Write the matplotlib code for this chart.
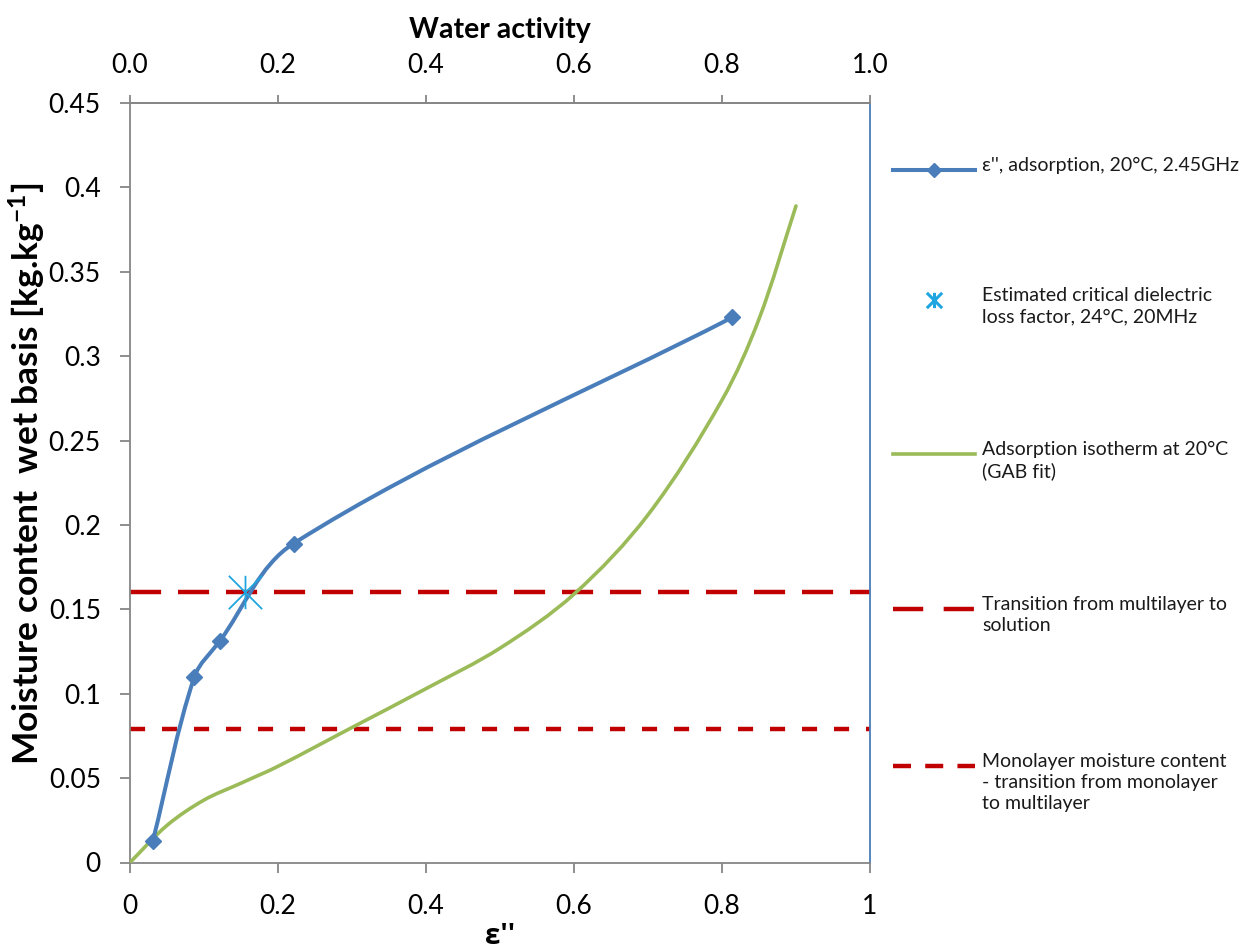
import numpy as np
import matplotlib
matplotlib.use('Agg')
import matplotlib.pyplot as plt
from matplotlib.path import Path
from matplotlib.patches import PathPatch
from matplotlib.lines import Line2D
from matplotlib.ticker import FormatStrFormatter, FuncFormatter

plt.rcParams['font.family'] = ['Lato', 'DejaVu Sans']
plt.rcParams['mathtext.fontset'] = 'custom'
plt.rcParams['mathtext.rm'] = 'Lato'
plt.rcParams['mathtext.bf'] = 'Lato:bold'

# dielectric loss factor vs moisture content (adsorption, 20C, 2.45GHz)
eps_loss = [0.031, 0.087, 0.121, 0.221, 0.814]
moisture_eps = [0.013, 0.110, 0.131, 0.189, 0.323]

# estimated critical loss factor (24C, 20MHz)
crit_eps = [0.155]
crit_moisture = [0.16]

# GAB isotherm at 20C (x = water activity)
aw = [0.0, 0.05, 0.1, 0.15, 0.2, 0.3, 0.4, 0.5, 0.6, 0.7, 0.8, 0.85, 0.9]
moisture_gab = [0.0, 0.022, 0.037, 0.047, 0.057, 0.080, 0.103, 0.127, 0.159, 0.206,
                0.274, 0.322, 0.389]

multilayer_solution = 0.16
monolayer = 0.079

BLUE = '#4A7EBB'
GREEN = '#9BBB59'
RED = '#C00000'
STAR = '#1FA5E0'
GREY = '#868686'

W, H = 1256, 952
# pixels per unit on each axis, used so the smoothing works in screen-like space
XPX, YPX = 740 / 1.0, 759.5 / 0.45


def smooth_path(xs, ys):
    # Excel-like smoothed line: cubic Beziers, tangent from neighbours, length from chord
    pts = np.column_stack([np.asarray(xs) * XPX, np.asarray(ys) * YPX]).astype(float)
    n = len(pts)
    tang = []
    for i in range(n):
        a = pts[max(i - 1, 0)]
        b = pts[min(i + 1, n - 1)]
        d = b - a
        tang.append(d / np.hypot(*d))
    verts = [pts[0]]
    codes = [Path.MOVETO]
    for i in range(n - 1):
        L = np.hypot(*(pts[i + 1] - pts[i]))
        verts += [pts[i] + tang[i] * L / 3, pts[i + 1] - tang[i + 1] * L / 3, pts[i + 1]]
        codes += [Path.CURVE4] * 3
    verts = np.array(verts) / [XPX, YPX]
    return Path(verts, codes)


star_marker = Path([(0, -1), (0, 1), (-1, -1), (1, 1), (-1, 1), (1, -1)],
                   [Path.MOVETO, Path.LINETO] * 3)

fig = plt.figure(figsize=(12.56, 9.52), dpi=100)
ax = fig.add_axes([130 / W, 1 - 862.5 / H, 740 / W, 759.5 / H])
ax.set_xlim(0, 1)
ax.set_ylim(0, 0.45)

# horizontal transition lines
ax.axhline(multilayer_solution, color=RED, lw=3.2, dashes=(7, 3.8), zorder=2)
ax.axhline(monolayer, color=RED, lw=3.2, dashes=(3.4, 3.8), zorder=2)

# GAB isotherm
ax.add_patch(PathPatch(smooth_path(aw, moisture_gab), fill=False, edgecolor=GREEN,
                       lw=2.6, zorder=3, capstyle='round'))

# loss factor curve
ax.add_patch(PathPatch(smooth_path(eps_loss, moisture_eps), fill=False, edgecolor=BLUE,
                       lw=2.9, zorder=4, capstyle='round'))
ax.plot(eps_loss, moisture_eps, ls='none', marker='D', ms=8.5, color=BLUE, zorder=5)

ax.plot(crit_eps, crit_moisture, ls='none', marker=star_marker, ms=24, mec=STAR,
        mew=1.3, zorder=6)

# axes styling
for side in ['left', 'bottom', 'top']:
    ax.spines[side].set_color(GREY)
    ax.spines[side].set_linewidth(1.3)
ax.spines['right'].set_color(BLUE)
ax.spines['right'].set_linewidth(1.3)

ax.set_xticks([0, 0.2, 0.4, 0.6, 0.8, 1.0])
ax.set_yticks(np.arange(0, 0.451, 0.05))
ax.xaxis.set_major_formatter(FuncFormatter(lambda v, p: '%g' % round(v, 2)))
ax.yaxis.set_major_formatter(FuncFormatter(lambda v, p: '%g' % round(v, 2)))
ax.tick_params(axis='x', direction='out', length=7, width=1.3, color=GREY,
               labelsize=19, pad=16)
ax.tick_params(axis='y', direction='out', length=7, width=1.3, color=GREY,
               labelsize=19, pad=14, right=False)

top = ax.twiny()
top.set_xlim(0, 1)
top.set_xticks([0, 0.2, 0.4, 0.6, 0.8, 1.0])
top.xaxis.set_major_formatter(FormatStrFormatter('%.1f'))
top.tick_params(axis='x', direction='out', length=6, width=1.3, color=GREY,
                labelsize=19, pad=12)
for side in ['left', 'bottom', 'right']:
    top.spines[side].set_visible(False)
top.spines['top'].set_color(GREY)
top.spines['top'].set_linewidth(1.3)

# axis titles
fig.text(500 / W, 1 - 30 / H, 'Water activity', ha='center', va='center',
         fontsize=20.5, fontweight='bold')
fig.text(500 / W, 1 - 936 / H, "ε''", ha='center', va='center',
         fontsize=20, fontweight='bold', family=['Open Sans', 'DejaVu Sans'])
fig.text(27 / W, 1 - 474 / H, r'Moisture content  wet basis [kg.kg$\mathbf{^{-1}}$]',
         ha='center', va='center', rotation=90, fontsize=25.5, fontweight='bold')

# legend on the right
hx0, hx1, tx = 893 / W, 975 / W, 982 / W
legend_fs = 14
line_px = 26


def legend_text(ypx, label):
    fig.text(tx, 1 - (ypx - line_px / 2) / H, label, ha='left', va='top',
             fontsize=legend_fs, color='#1a1a1a', linespacing=1.3,
             family=['Lato', 'DejaVu Sans'])


y1 = 170
fig.add_artist(Line2D([hx0, hx1], [1 - y1 / H] * 2, transform=fig.transFigure,
                      color=BLUE, lw=2.9))
fig.add_artist(Line2D([934 / W], [1 - y1 / H], transform=fig.transFigure,
                      color=BLUE, marker='D', ms=7.5))
legend_text(y1, "ε'', adsorption, 20°C, 2.45GHz")

y2 = 300
fig.add_artist(Line2D([934 / W], [1 - y2 / H], transform=fig.transFigure,
                      marker=star_marker, ms=11, mec=STAR, mew=2.2, ls='none'))
legend_text(y2, 'Estimated critical dielectric\nloss factor, 24°C, 20MHz')

y3 = 454
fig.add_artist(Line2D([hx0, hx1], [1 - y3 / H] * 2, transform=fig.transFigure,
                      color=GREEN, lw=2.6))
legend_text(y3, 'Adsorption isotherm at 20°C\n(GAB fit)')

y4 = 609
fig.add_artist(Line2D([hx0, hx1], [1 - y4 / H] * 2, transform=fig.transFigure,
                      color=RED, lw=3.2, dashes=(6.8, 4.6)))
legend_text(y4, 'Transition from multilayer to\nsolution')

y5 = 766
fig.add_artist(Line2D([hx0, hx1], [1 - y5 / H] * 2, transform=fig.transFigure,
                      color=RED, lw=3.2, dashes=(4.05, 3.2)))
legend_text(y5, 'Monolayer moisture content\n- transition from monolayer\nto multilayer')

fig.savefig('out.png', dpi=100, facecolor='white')
